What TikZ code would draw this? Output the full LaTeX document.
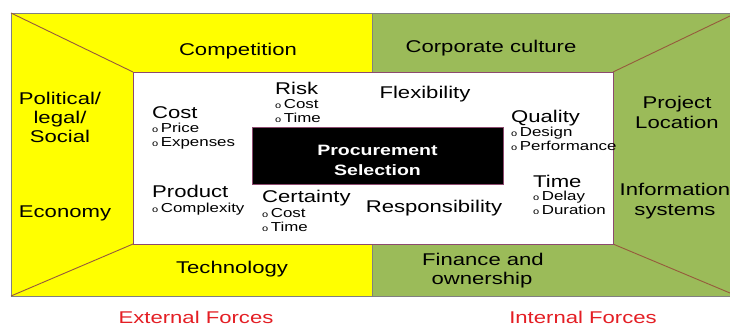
\documentclass[tikz,border=0pt]{standalone}
\usepackage{fontspec}
\setmainfont{Liberation Sans}[FakeStretch=1.3]
\definecolor{fyellow}{RGB}{255,255,0}
\definecolor{fgreen}{RGB}{155,187,89}
\definecolor{edgegrey}{RGB}{128,128,128}
\definecolor{diagbrown}{RGB}{150,90,60}
\definecolor{framepurple}{RGB}{140,74,110}
\definecolor{forcered}{RGB}{228,30,36}
\newcommand{\bul}{{\fontsize{8.5}{8.5}\selectfont o}\hspace{2.5pt}}
\begin{document}
\begin{tikzpicture}[x=1pt,y=-1pt,
  head/.style={font=\fontsize{17}{20}\selectfont, inner sep=0pt, anchor=base west},
  sub/.style={font=\fontsize{13}{14}\selectfont, inner sep=0pt, anchor=base west},
  big/.style={font=\fontsize{17}{20}\selectfont, inner sep=0pt, anchor=base},
  force/.style={font=\fontsize{17}{20}\selectfont, inner sep=0pt, anchor=base, text=forcered},
  proctext/.style={font=\fontsize{15}{20}\selectfont\bfseries, text=white, inner sep=0pt, anchor=base},
  diag/.style={draw=diagbrown, line width=0.9pt}]
\useasboundingbox (0,0) rectangle (730,327);
% outer regions
\fill[white] (0,0) rectangle (730,327);
\filldraw[fill=fyellow, draw=edgegrey, line width=0.8pt] (11,13) rectangle (372,296);
\filldraw[fill=fgreen, draw=edgegrey, line width=0.8pt] (372,13) rectangle (740,296);
% inner frame
\coordinate (tl) at (133,72);
\coordinate (tr) at (613,72);
\coordinate (bl) at (133,244);
\coordinate (br) at (613,244);
\coordinate (otl) at (11,13);
\coordinate (obl) at (11,296);
\coordinate (otr) at (730,16);
\coordinate (obr) at (730,293);
\draw[diag] (otl) -- (tl);
\draw[diag] (obl) -- (bl);
\draw[diag] (otr) -- (tr);
\draw[diag] (obr) -- (br);
\filldraw[fill=white, draw=framepurple, line width=1pt] (tl) rectangle (br);
% centre box
\node[fill=black, draw=framepurple, line width=0.8pt, minimum width=251pt, minimum height=57pt, inner sep=0pt] (proc) at (377.5,155.5) {};
\node[proctext] (proc1) at (377.5,155.5) {Procurement};
\node[proctext] (proc2) at (377.5,175.5) {Selection};
% inner factors
\node[head] (cost) at (152,118) {Cost};
\node[sub] (costa) at (152,132) {\bul Price};
\node[sub] (costb) at (152,146) {\bul Expenses};
\node[head] (risk) at (275,94) {Risk};
\node[sub] (riska) at (275,108) {\bul Cost};
\node[sub] (riskb) at (275,122) {\bul Time};
\node[head, anchor=base] (flex) at (425,98) {Flexibility};
\node[head] (qual) at (511,122) {Quality};
\node[sub] (quala) at (511,136) {\bul Design};
\node[sub] (qualb) at (511,150) {\bul Performance};
\node[head] (prod) at (152,197) {Product};
\node[sub] (proda) at (152,212) {\bul Complexity};
\node[head] (cert) at (262,202) {Certainty};
\node[sub] (certa) at (262,217) {\bul Cost};
\node[sub] (certb) at (262,231) {\bul Time};
\node[head, anchor=base] (resp) at (434,212) {Responsibility};
\node[head] (time) at (533,187) {Time};
\node[sub] (timea) at (533,200) {\bul Delay};
\node[sub] (timeb) at (533,214) {\bul Duration};
% external forces (yellow)
\node[big] (comp) at (238,55) {Competition};
\node[big] (pol1) at (60,104) {Political/};
\node[big] (pol2) at (60,123) {legal/};
\node[big] (pol3) at (60,142) {Social};
\node[big] (econ) at (65,217) {Economy};
\node[big] (tech) at (232,273) {Technology};
% internal forces (green)
\node[big] (corp) at (491,52) {Corporate culture};
\node[big] (fin1) at (483,265) {Finance and};
\node[big] (fin2) at (482,284) {ownership};
\node[big] (proj1) at (677,108) {Project};
\node[big] (proj2) at (677,128) {Location};
\node[big] (info1) at (675,195) {Information};
\node[big] (info2) at (675,215) {systems};
% captions
\node[force] (ext) at (196,323) {External Forces};
\node[force] (int) at (583,323) {Internal Forces};
\end{tikzpicture}
\end{document}
